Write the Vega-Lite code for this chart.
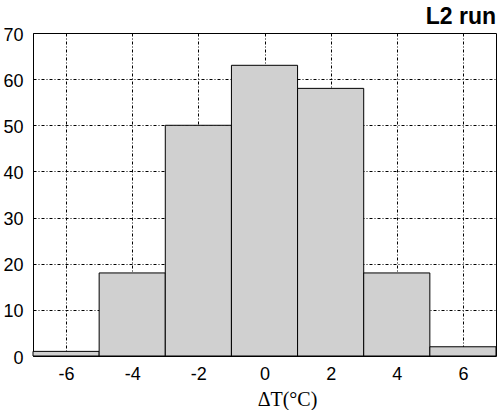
{
  "$schema": "https://vega.github.io/schema/vega-lite/v6.json",
  "width": 463,
  "height": 323,
  "autosize": "none",
  "padding": {"left": 33, "top": 33, "right": 2, "bottom": 54},
  "background": "white",
  "config": {
    "view": {"stroke": "black", "strokeWidth": 1}
  },
  "title": {"text": "L2 run", "anchor": "end", "fontSize": 23, "fontWeight": "bold", "font": "Liberation Sans", "color": "black", "frame": "group", "offset": 6, "dy": 9},
  "data": {
    "values": [
      {"start": -7, "end": -5, "count": 1},
      {"start": -5, "end": -3, "count": 18},
      {"start": -3, "end": -1, "count": 50},
      {"start": -1, "end": 1, "count": 63},
      {"start": 1, "end": 3, "count": 58},
      {"start": 3, "end": 5, "count": 18},
      {"start": 5, "end": 7, "count": 2}
    ]
  },
  "mark": {"type": "bar", "fill": "#d0d0d0", "stroke": "black", "strokeWidth": 1},
  "encoding": {
    "x": {
      "field": "start", "type": "quantitative",
      "scale": {"domain": [-7, 7], "nice": false, "zero": false},
      "axis": {"orient": "bottom", "values": [-6, -4, -2, 0, 2, 4, 6], "ticks": false, "domain": false,
        "grid": true, "gridColor": "black", "gridDash": [3, 2, 1, 2], "gridOpacity": 1, "gridWidth": 1,
        "labelFont": "Liberation Sans", "labelColor": "black", "labelFontSize": 18, "labelPadding": 9, "labelExpr": "'' + datum.value",
        "title": "ΔT(°C)", "titleFont": "Liberation Serif", "titleFontSize": 20, "titleFontWeight": "normal", "titleColor": "black",
        "titleX": 254, "titleY": 49, "titleAlign": "center", "titleBaseline": "alphabetic", "zindex": 0}
    },
    "x2": {"field": "end"},
    "y": {
      "field": "count", "type": "quantitative",
      "scale": {"domain": [0, 70], "nice": false},
      "axis": {"orient": "left", "values": [0, 10, 20, 30, 40, 50, 60, 70], "ticks": false, "domain": false,
        "grid": true, "gridColor": "black", "gridDash": [3, 2, 1, 2], "gridOpacity": 1, "gridWidth": 1,
        "labelFont": "Liberation Sans", "labelColor": "black", "labelFontSize": 18, "labelPadding": 10, "labelOffset": 2, "title": null, "zindex": 0}
    },
    "y2": {"datum": 0}
  }
}
